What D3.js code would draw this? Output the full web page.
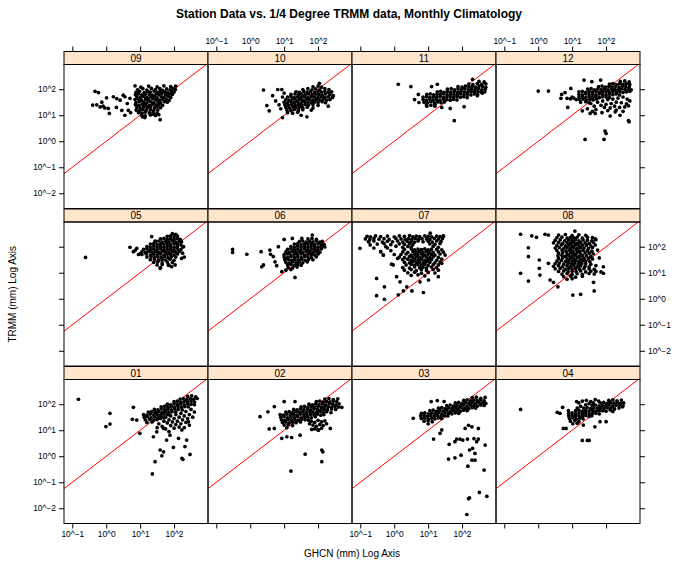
<!DOCTYPE html>
<html><head><meta charset="utf-8">
<script src="https://cdn.jsdelivr.net/npm/d3@7"></script>
<style>body{margin:0;background:#fff}text{font-family:"Liberation Sans",Arial,Helvetica,sans-serif}</style>
</head><body>
<svg id="c" width="677" height="563"></svg>
<script>
// panel order as drawn: rows top->bottom, columns left->right
const panelOrder = ["09","10","11","12","05","06","07","08","01","02","03","04"];
const xTickVals = [-1,0,1,2];
const yTickVals = [-2,-1,0,1,2];
const refLine = [-3,3]; // y = x
const title = "Station Data vs. 1/4 Degree TRMM data, Monthly Climatology";
const xTitle = "GHCN (mm) Log Axis";
const yTitle = "TRMM (mm) Log Axis";

// values are log10(mm): [GHCN, TRMM]
const m09 = [[-.33,1.92],[-.23,1.87],[-.40,1.39],[-.28,1.40],[-.18,1.32],[-.09,1.35],[-.04,1.28],[.06,1.26],[.09,1.07],[.01,1.67],[.21,1.71],[.31,1.64],[.41,1.58],[.50,1.77],[.55,1.71],[.46,1.19],[.55,1.0],[.65,1.19],[.85,2.13],[1.59,.83],[1.39,1.04],[1.07,.94],[1.14,.91],[-.13,1.50],[.30,1.30],[.62,1.45],[.70,1.65],[.72,1.10],
[1.02,2.08],[1.25,2.12],[1.5,2.09],[1.7,2.13],[1.9,2.1],[2.05,2.12],
[.92,1.98],[1.08,2.02],[1.2,1.97],[1.33,2.03],[1.45,1.99],[1.58,2.02],[1.66,1.96],[1.78,2.01],[1.88,1.98],[1.97,2.03],[2.04,1.99],
[.88,1.88],[.98,1.92],[1.12,1.87],[1.22,1.91],[1.3,1.89],[1.41,1.93],[1.52,1.88],[1.6,1.92],[1.72,1.9],[1.81,1.87],[1.93,1.92],[2.0,1.89],
[.86,1.79],[.95,1.82],[1.05,1.78],[1.15,1.81],[1.27,1.8],[1.36,1.77],[1.47,1.82],[1.55,1.79],[1.64,1.83],[1.75,1.78],[1.86,1.81],[1.95,1.8],
[.9,1.71],[1.0,1.68],[1.1,1.72],[1.2,1.69],[1.31,1.7],[1.42,1.73],[1.5,1.67],[1.62,1.71],[1.7,1.69],[1.82,1.72],[1.9,1.68],
[.85,1.6],[.94,1.62],[1.04,1.58],[1.16,1.61],[1.25,1.59],[1.37,1.63],[1.46,1.6],[1.57,1.58],[1.66,1.62],[1.77,1.6],[1.85,1.57],
[.88,1.49],[.98,1.52],[1.1,1.5],[1.2,1.48],[1.3,1.52],[1.4,1.49],[1.52,1.51],[1.6,1.48],[1.71,1.52],[1.8,1.5],
[.86,1.41],[.96,1.38],[1.06,1.42],[1.15,1.4],[1.26,1.37],[1.35,1.41],[1.46,1.39],[1.55,1.42],[1.66,1.38],
[.9,1.3],[1.0,1.28],[1.1,1.32],[1.2,1.29],[1.3,1.31],[1.42,1.28],[1.5,1.32],[1.6,1.29],
[.88,1.2],[.98,1.18],[1.08,1.22],[1.18,1.19],[1.3,1.21],[1.4,1.18],[1.52,1.2],
[.95,1.1],[1.05,1.08],[1.15,1.12],[1.27,1.09],[1.38,1.11],[1.5,1.08],
[1.05,1.0],[1.15,.98],[1.3,1.01],[1.45,.99],[1.55,1.02]];

const m10 = [[.39,1.97],[.49,1.37],[.56,1.17],[.66,1.75],[.81,1.99],[.93,1.99],[.95,.91],[2.04,2.23],[1.67,.94],[.75,1.55],[.85,1.4],[.9,1.25],[.95,1.7],[1.0,1.85],[1.5,1.0],[1.8,1.2],[2.3,1.35],[2.45,1.75],
[1.85,2.09],[2.0,2.12],[2.1,2.08],
[1.55,1.99],[1.7,2.02],[1.82,1.98],[1.93,2.01],[2.05,1.97],[2.2,2.02],[2.32,1.99],
[1.35,1.9],[1.45,1.88],[1.58,1.92],[1.68,1.89],[1.78,1.91],[1.9,1.88],[2.0,1.92],[2.1,1.89],[2.2,1.91],[2.3,1.88],[2.4,1.9],
[1.2,1.8],[1.32,1.82],[1.42,1.78],[1.52,1.81],[1.62,1.79],[1.72,1.82],[1.82,1.78],[1.92,1.81],[2.02,1.8],[2.12,1.78],[2.22,1.82],[2.35,1.79],
[1.1,1.7],[1.2,1.72],[1.3,1.68],[1.4,1.71],[1.5,1.69],[1.6,1.72],[1.7,1.68],[1.8,1.71],[1.9,1.7],[2.0,1.68],[2.1,1.72],[2.2,1.69],[2.3,1.71],[2.42,1.68],
[1.05,1.6],[1.15,1.58],[1.25,1.62],[1.35,1.59],[1.45,1.61],[1.55,1.58],[1.65,1.62],[1.75,1.6],[1.85,1.58],[1.95,1.61],[2.05,1.59],[2.15,1.62],[2.25,1.58],[2.35,1.6],
[1.0,1.5],[1.1,1.48],[1.2,1.52],[1.3,1.49],[1.4,1.51],[1.5,1.48],[1.6,1.52],[1.7,1.5],[1.8,1.48],[1.9,1.51],[2.0,1.49],[2.12,1.52],[2.22,1.48],
[1.02,1.4],[1.12,1.38],[1.22,1.42],[1.32,1.39],[1.42,1.41],[1.52,1.38],[1.62,1.42],[1.72,1.39],[1.85,1.41],[2.0,1.38],
[1.05,1.3],[1.15,1.28],[1.25,1.32],[1.35,1.29],[1.45,1.31],[1.55,1.28],[1.68,1.31],[1.85,1.28],
[1.08,1.2],[1.2,1.18],[1.3,1.22],[1.42,1.19],[1.55,1.21],
[1.1,1.1],[1.25,1.08],[1.4,1.11]];

const m11 = [[.12,2.19],[.49,2.10],[1.10,2.10],[1.27,2.19],[.71,1.80],[.73,1.49],[.96,1.35],[1.77,.79],[2.06,1.33],[2.31,2.38],[1.65,1.26],[.6,1.6],[1.4,1.3],[2.45,1.75],[2.6,1.85],[1.2,1.35],
[2.5,2.3],[2.65,2.28],
[2.2,2.2],[2.32,2.18],[2.45,2.22],[2.58,2.19],[2.7,2.21],
[1.88,2.1],[2.0,2.08],[2.1,2.12],[2.2,2.09],[2.3,2.11],[2.4,2.08],[2.5,2.12],[2.6,2.1],[2.7,2.08],
[1.57,2.0],[1.68,2.02],[1.78,1.98],[1.88,2.01],[1.98,1.99],[2.08,2.03],[2.18,1.98],[2.28,2.01],[2.38,1.99],[2.48,2.02],[2.58,1.98],[2.68,2.0],
[1.27,1.9],[1.37,1.92],[1.47,1.88],[1.57,1.91],[1.67,1.89],[1.77,1.92],[1.87,1.88],[1.97,1.91],[2.07,1.9],[2.17,1.88],[2.27,1.92],[2.37,1.89],[2.47,1.91],[2.57,1.88],[2.67,1.9],
[.96,1.8],[1.06,1.82],[1.16,1.78],[1.26,1.81],[1.36,1.79],[1.46,1.82],[1.56,1.78],[1.66,1.81],[1.76,1.8],[1.86,1.78],[1.96,1.82],[2.06,1.79],[2.16,1.81],[2.26,1.78],[2.36,1.82],[2.46,1.8],
[.85,1.7],[.95,1.72],[1.05,1.68],[1.15,1.71],[1.25,1.69],[1.35,1.72],[1.45,1.68],[1.55,1.71],[1.65,1.7],[1.75,1.68],[1.85,1.72],[1.95,1.69],[2.05,1.71],[2.15,1.68],
[.85,1.6],[.95,1.58],[1.05,1.62],[1.15,1.59],[1.25,1.61],[1.35,1.58],[1.45,1.62],[1.55,1.6],[1.65,1.58],[1.75,1.61],[1.85,1.59],
[.88,1.5],[.98,1.48],[1.08,1.52],[1.18,1.49],[1.28,1.51],[1.38,1.48],[1.48,1.51],
[.95,1.4],[1.08,1.38],[1.2,1.42]];

const m12 = [[.0,1.93],[.30,1.93],[.69,1.80],[.79,1.87],[.67,1.65],[.87,1.30],[.96,2.03],[1.35,2.35],[1.58,2.29],[1.84,2.35],[1.30,1.17],[1.53,1.07],[1.68,1.07],[2.12,.97],[2.41,1.0],[2.27,1.13],[2.66,1.36],[2.66,.79],[2.68,.75],[1.97,.39],[2.0,.30],[1.38,.07],[1.94,.07],
[.85,1.65],[.95,1.63],[1.05,1.66],[1.12,1.6],[1.0,1.7],
[2.42,2.3],[2.55,2.32],[2.68,2.28],
[2.1,2.2],[2.2,2.22],[2.3,2.18],[2.4,2.21],[2.5,2.19],[2.6,2.22],[2.7,2.18],
[1.78,2.1],[1.88,2.12],[1.98,2.08],[2.08,2.11],[2.18,2.09],[2.28,2.12],[2.38,2.08],[2.48,2.11],[2.58,2.1],[2.68,2.08],
[1.46,2.0],[1.56,2.02],[1.66,1.98],[1.76,2.01],[1.86,1.99],[1.96,2.02],[2.06,1.98],[2.16,2.01],[2.26,2.0],[2.36,1.98],[2.46,2.02],[2.56,1.99],[2.66,2.01],[2.74,1.98],
[1.2,1.9],[1.3,1.92],[1.4,1.88],[1.5,1.91],[1.6,1.89],[1.7,1.92],[1.8,1.88],[1.9,1.91],[2.0,1.9],[2.1,1.88],[2.2,1.92],[2.3,1.89],[2.4,1.91],[2.5,1.88],[2.6,1.9],[2.7,1.92],
[1.2,1.8],[1.3,1.78],[1.4,1.82],[1.5,1.79],[1.6,1.81],[1.7,1.78],[1.8,1.82],[1.9,1.8],[2.0,1.78],[2.1,1.81],[2.2,1.79],[2.3,1.82],[2.4,1.78],
[1.2,1.7],[1.3,1.72],[1.4,1.68],[1.5,1.71],[1.6,1.69],[1.7,1.72],[1.8,1.68],[1.9,1.71],[2.0,1.7],[2.1,1.68],
[1.22,1.6],[1.32,1.62],[1.42,1.58],[1.52,1.61],[1.62,1.59],[1.72,1.62],
[1.25,1.5],[1.4,1.52],[1.5,1.48],
[1.55,1.45],[1.75,1.5],[1.9,1.55],[2.05,1.6],[2.2,1.62],[2.35,1.66],[2.5,1.7],[2.62,1.62],[2.7,1.55],[1.65,1.35],[1.85,1.38],[2.0,1.42],[2.15,1.45],[2.3,1.5],[2.45,1.48],[2.6,1.44],[1.45,1.25],[1.7,1.22],[1.95,1.3],[2.12,1.28],[2.25,1.35],[2.4,1.3],[2.55,1.32],[1.6,1.15],[1.88,1.1],[2.05,1.18],[2.3,1.2],[2.5,1.15]];

const m05 = [[-.61,1.59],[.70,1.98],[.80,1.81],[.90,1.94],[1.0,1.74],[1.34,2.39],[1.44,2.22],[1.59,1.17],[1.83,1.30],[2.03,1.30],[2.22,1.55],[2.28,2.0],[1.93,1.23],[.85,1.85],[.95,1.7],[2.25,1.75],[2.3,1.6],
[1.95,2.5],[2.05,2.48],
[1.8,2.4],[1.9,2.42],[2.0,2.38],[2.1,2.41],
[1.6,2.3],[1.7,2.32],[1.8,2.28],[1.9,2.31],[2.0,2.29],[2.1,2.32],[2.18,2.28],
[1.45,2.2],[1.55,2.22],[1.65,2.18],[1.75,2.21],[1.85,2.19],[1.95,2.22],[2.05,2.18],[2.15,2.21],[2.22,2.19],
[1.3,2.1],[1.4,2.12],[1.5,2.08],[1.6,2.11],[1.7,2.09],[1.8,2.12],[1.9,2.08],[2.0,2.11],[2.1,2.1],[2.2,2.08],
[1.2,2.0],[1.3,1.98],[1.4,2.02],[1.5,1.99],[1.6,2.01],[1.7,1.98],[1.8,2.02],[1.9,2.0],[2.0,1.98],[2.1,2.01],[2.25,1.99],
[1.1,1.9],[1.2,1.92],[1.3,1.88],[1.4,1.91],[1.5,1.89],[1.6,1.92],[1.7,1.88],[1.8,1.91],[1.9,1.9],[2.0,1.88],[2.1,1.92],[2.2,1.89],
[1.05,1.8],[1.15,1.78],[1.25,1.82],[1.35,1.79],[1.45,1.81],[1.55,1.78],[1.65,1.82],[1.75,1.8],[1.85,1.78],[1.95,1.81],[2.05,1.79],[2.15,1.82],
[1.05,1.7],[1.18,1.72],[1.3,1.68],[1.4,1.71],[1.5,1.69],[1.6,1.72],[1.7,1.68],[1.8,1.71],[1.9,1.7],[2.0,1.68],[2.1,1.72],
[1.2,1.6],[1.32,1.62],[1.42,1.58],[1.52,1.61],[1.62,1.59],[1.72,1.62],[1.82,1.58],[1.92,1.61],[2.05,1.6],
[1.3,1.5],[1.42,1.52],[1.55,1.48],[1.65,1.51],[1.75,1.49],[1.88,1.52],[2.0,1.48],
[1.4,1.4],[1.52,1.42],[1.65,1.38],[1.8,1.41],[1.95,1.39],
[1.5,1.3],[1.65,1.32],[1.85,1.28],[1.6,1.2]];

const m06 = [[-.52,1.90],[-.52,1.78],[-.10,1.71],[.32,1.81],[.39,1.30],[.34,1.23],[.58,1.87],[.60,1.71],[.68,1.62],[.73,1.42],[.78,1.27],[.83,2.0],[1.0,2.28],[1.24,2.32],[1.52,2.32],[1.83,2.45],[1.32,.82],[.93,1.04],
[1.7,2.3],[1.82,2.32],[1.95,2.28],
[1.45,2.2],[1.55,2.22],[1.65,2.18],[1.75,2.21],[1.85,2.19],[1.95,2.22],[2.05,2.18],[2.12,2.21],
[1.3,2.1],[1.4,2.12],[1.5,2.08],[1.6,2.11],[1.7,2.09],[1.8,2.12],[1.9,2.08],[2.0,2.11],[2.1,2.1],[2.18,2.08],
[1.2,2.0],[1.3,1.98],[1.4,2.02],[1.5,1.99],[1.6,2.01],[1.7,1.98],[1.8,2.02],[1.9,2.0],[2.0,1.98],[2.1,2.01],[2.2,1.99],
[1.1,1.9],[1.2,1.92],[1.3,1.88],[1.4,1.91],[1.5,1.89],[1.6,1.92],[1.7,1.88],[1.8,1.91],[1.9,1.9],[2.0,1.88],[2.1,1.92],
[1.05,1.8],[1.15,1.78],[1.25,1.82],[1.35,1.79],[1.45,1.81],[1.55,1.78],[1.65,1.82],[1.75,1.8],[1.85,1.78],[1.95,1.81],[2.05,1.79],
[1.0,1.7],[1.1,1.72],[1.2,1.68],[1.3,1.71],[1.4,1.69],[1.5,1.72],[1.6,1.68],[1.7,1.71],[1.8,1.7],[1.9,1.68],[2.0,1.72],
[1.0,1.6],[1.1,1.58],[1.2,1.62],[1.3,1.59],[1.4,1.61],[1.5,1.58],[1.6,1.62],[1.7,1.6],[1.8,1.58],[1.95,1.61],
[1.02,1.5],[1.12,1.52],[1.22,1.48],[1.32,1.51],[1.42,1.49],[1.52,1.52],[1.62,1.48],[1.72,1.51],[1.85,1.5],
[1.05,1.4],[1.15,1.38],[1.25,1.42],[1.35,1.39],[1.45,1.41],[1.55,1.38],[1.68,1.42],
[1.1,1.3],[1.2,1.32],[1.3,1.28],[1.4,1.31],[1.5,1.29],
[1.12,1.2],[1.25,1.18],[1.38,1.22],
[1.05,1.1],[1.2,1.12]];

const m07 = [[-1.01,1.94],[-.52,.78],[-.29,.46],[-.52,.12],[-.29,-.02],[.12,.15],[.27,.30],[.52,.30],[.86,.24],[.37,.46],[.17,.65],[.07,.85],[-.03,1.30],[-.08,1.33],[-.32,1.68],[-.40,1.81],[-.71,2.07],[-.76,2.19],[1.06,2.52],[1.45,2.42],[1.50,1.68],[1.40,1.36],[1.30,.85],[1.01,.72],[.76,.65],
[-.6,1.95],[-.4,1.81],[-.32,1.68],[-.1,1.85],[0,1.7],[.1,1.55],[-.2,1.95],
[-.8,2.4],[-.7,2.38],[-.55,2.42],[-.4,2.39],[-.2,2.41],[0,2.38],[.15,2.42],[.3,2.4],[.45,2.43],[.55,2.38],[.65,2.41],[.75,2.39],[.9,2.42],[1.0,2.4],[1.1,2.38],[1.25,2.41],[1.35,2.39],[1.45,2.4],
[-.85,2.3],[-.72,2.28],[-.6,2.32],[-.45,2.29],[-.3,2.31],[-.15,2.28],[.05,2.32],[.2,2.3],[.32,2.28],[.42,2.31],[.52,2.29],[.62,2.32],[.72,2.28],[.82,2.31],[.95,2.3],[1.05,2.28],[1.18,2.32],[1.3,2.29],[1.42,2.31],
[-.75,2.2],[-.6,2.22],[-.35,2.18],[-.2,2.21],[-.05,2.19],[.1,2.22],[.25,2.18],[.38,2.21],[.5,2.2],[.6,2.18],[.7,2.22],[.85,2.19],[1.0,2.21],[1.12,2.18],[1.25,2.22],[1.38,2.2],
[-.5,2.1],[-.3,2.12],[-.1,2.08],[.15,2.11],[.3,2.09],[.45,2.12],[.55,2.08],[1.05,2.11],[1.2,2.09],[1.35,2.12],
[-.25,2.0],[.05,2.02],[.25,1.98],[.4,2.01],[.5,1.99],[1.15,2.02],[1.3,1.98],
[.3,1.9],[.5,1.92],[.6,1.88],[.7,1.91],[.8,1.89],[.9,1.92],[1.0,1.88],[1.1,1.91],[1.25,1.9],[1.4,1.88],
[.25,1.8],[.4,1.78],[.55,1.82],[.65,1.79],[.75,1.81],[.85,1.78],[.95,1.82],[1.05,1.8],[1.15,1.78],[1.3,1.81],[1.45,1.79],
[.2,1.7],[.35,1.72],[.5,1.68],[.6,1.71],[.7,1.69],[.8,1.72],[.9,1.68],[1.0,1.71],[1.1,1.7],[1.2,1.68],[1.35,1.72],
[.15,1.6],[.3,1.58],[.45,1.62],[.55,1.59],[.65,1.61],[.75,1.58],[.85,1.62],[.95,1.6],[1.05,1.58],[1.15,1.61],[1.3,1.59],
[.25,1.5],[.4,1.52],[.5,1.48],[.6,1.51],[.7,1.49],[.8,1.52],[.9,1.48],[1.0,1.51],[1.1,1.5],[1.25,1.48],[1.4,1.52],
[.3,1.4],[.45,1.38],[.55,1.42],[.65,1.39],[.75,1.41],[.85,1.38],[.95,1.42],[1.05,1.4],[1.2,1.38],[1.35,1.41],
[.35,1.3],[.5,1.32],[.6,1.28],[.7,1.31],[.8,1.29],[.9,1.32],[1.0,1.28],[1.15,1.31],[1.3,1.3],
[.25,1.2],[.45,1.18],[.6,1.22],[.75,1.19],[.85,1.21],[.95,1.18],[1.1,1.22],[1.25,1.2],
[.3,1.1],[.5,1.12],[.65,1.08],[.8,1.11],[.95,1.09],[1.15,1.12],[1.3,1.1],
[.4,1.0],[.6,1.02],[.8,.98],[1.0,1.01],[1.2,.99],
[.5,.9],[.7,.92],[.9,.88]];

const m08 = [[-.52,2.48],[-.19,2.42],[-.05,2.36],[-.29,1.96],[-.29,1.62],[-.52,.98],[-.29,.68],[.03,1.17],[.05,.91],[.03,1.49],[.30,1.36],[.35,.72],[.45,.63],[.58,.46],[1.02,.14],[1.25,.17],[1.65,.30],[1.63,.63],[1.92,1.23],[1.92,.98],[1.68,2.30],[1.08,2.60],[.2,2.48],[.3,2.45],
[.6,2.45],[.8,2.47],[1.0,2.43],[1.2,2.46],[1.4,2.44],
[.55,2.35],[.7,2.37],[.85,2.33],[.95,2.36],[1.05,2.34],[1.15,2.37],[1.3,2.33],[1.45,2.36],[1.6,2.35],
[.5,2.25],[.65,2.27],[.78,2.23],[.9,2.26],[1.0,2.24],[1.1,2.27],[1.2,2.23],[1.32,2.26],[1.45,2.25],[1.58,2.23],[1.7,2.27],
[.45,2.15],[.6,2.17],[.72,2.13],[.85,2.16],[.95,2.14],[1.05,2.17],[1.15,2.13],[1.25,2.16],[1.38,2.15],[1.5,2.13],[1.62,2.17],
[.55,2.05],[.68,2.07],[.8,2.03],[.9,2.06],[1.0,2.04],[1.1,2.07],[1.2,2.03],[1.3,2.06],[1.42,2.05],[1.55,2.03],[1.68,2.07],
[.5,1.95],[.62,1.97],[.75,1.93],[.85,1.96],[.95,1.94],[1.05,1.97],[1.15,1.93],[1.25,1.96],[1.35,1.95],[1.48,1.93],[1.6,1.97],
[.55,1.85],[.7,1.87],[.82,1.83],[.92,1.86],[1.02,1.84],[1.12,1.87],[1.22,1.83],[1.32,1.86],[1.45,1.85],[1.58,1.83],[1.75,1.87],
[.6,1.75],[.72,1.77],[.85,1.73],[.95,1.76],[1.05,1.74],[1.15,1.77],[1.25,1.73],[1.38,1.76],[1.5,1.75],[1.62,1.73],
[.58,1.65],[.7,1.67],[.8,1.63],[.9,1.66],[1.0,1.64],[1.1,1.67],[1.2,1.63],[1.3,1.66],[1.42,1.65],[1.55,1.63],
[.6,1.55],[.72,1.57],[.85,1.53],[.95,1.56],[1.05,1.54],[1.15,1.57],[1.25,1.53],[1.35,1.56],[1.48,1.55],[1.6,1.53],[1.8,1.57],
[.55,1.45],[.68,1.47],[.8,1.43],[.9,1.46],[1.0,1.44],[1.1,1.47],[1.2,1.43],[1.3,1.46],[1.4,1.45],[1.52,1.43],
[.5,1.35],[.62,1.37],[.75,1.33],[.88,1.36],[.98,1.34],[1.08,1.37],[1.18,1.33],[1.28,1.36],[1.4,1.35],[1.55,1.33],
[.45,1.25],[.6,1.27],[.72,1.23],[.85,1.26],[.95,1.24],[1.05,1.27],[1.15,1.23],[1.25,1.26],[1.38,1.25],[1.5,1.23],[1.7,1.27],
[.5,1.15],[.65,1.17],[.8,1.13],[.9,1.16],[1.0,1.14],[1.1,1.17],[1.22,1.13],[1.35,1.16],[1.5,1.15],[1.65,1.13],
[.6,1.05],[.75,1.07],[.88,1.03],[1.0,1.06],[1.12,1.04],[1.25,1.07],[1.4,1.03],[1.55,1.06],[1.7,1.05],[1.85,1.03],
[.7,.95],[.85,.97],[1.0,.93],[1.15,.96],[1.3,.94],[1.5,.97],[1.65,.95],
[.75,.85],[.95,.87],[1.1,.83],[1.3,.86],
[.85,.75],[1.0,.77]];

const m01 = [[-.82,2.19],[.11,1.65],[-.01,1.14],[.11,1.24],[.80,1.88],[.77,1.42],[.90,1.39],[.99,.88],[1.36,-.68],[1.44,-.21],[1.64,.02],[1.59,.24],[1.69,.17],[2.23,-.08],[2.26,-.12],[2.47,.07],[2.32,.37],[1.98,.34],[1.78,.62],[1.88,.81],[2.13,.69],[2.37,.62],[1.39,.75],[1.49,.94],[1.69,1.07],[2.23,1.01],[2.42,1.33],
[2.4,2.3],[2.52,2.32],[2.64,2.28],
[2.18,2.2],[2.28,2.22],[2.38,2.18],[2.48,2.21],[2.58,2.19],[2.68,2.22],
[2.0,2.1],[2.1,2.12],[2.2,2.08],[2.3,2.11],[2.4,2.09],[2.5,2.12],[2.6,2.08],
[1.8,2.0],[1.9,1.98],[2.0,2.02],[2.1,1.99],[2.2,2.01],[2.3,1.98],[2.4,2.02],[2.5,2.0],[2.6,1.98],
[1.62,1.9],[1.72,1.92],[1.82,1.88],[1.92,1.91],[2.02,1.89],[2.12,1.92],[2.22,1.88],[2.32,1.91],[2.42,1.9],
[1.42,1.8],[1.52,1.78],[1.62,1.82],[1.72,1.79],[1.82,1.81],[1.92,1.78],[2.02,1.82],[2.12,1.8],[2.24,1.78],
[1.24,1.7],[1.34,1.72],[1.44,1.68],[1.54,1.71],[1.64,1.69],[1.74,1.72],[1.84,1.68],[1.94,1.71],[2.05,1.7],
[1.1,1.6],[1.2,1.58],[1.3,1.62],[1.4,1.59],[1.5,1.61],[1.6,1.58],[1.7,1.62],[1.8,1.6],[1.88,1.58],
[1.12,1.5],[1.22,1.52],[1.32,1.48],[1.42,1.51],[1.52,1.49],[1.62,1.52],[1.7,1.48],
[1.15,1.4],[1.28,1.42],[1.4,1.38],[1.5,1.41],
[1.2,1.3],[1.35,1.32],
[1.6,1.45],[1.75,1.5],[1.9,1.55],[2.05,1.6],[2.2,1.65],[2.35,1.72],[2.5,1.8],[1.7,1.35],[1.85,1.4],[2.0,1.45],[2.15,1.5],[2.3,1.55],[2.45,1.6],[2.6,1.7],[1.55,1.25],[1.8,1.28],[1.95,1.32],[2.1,1.35],[2.25,1.4],[2.4,1.45],[2.55,1.5],[1.65,1.15],[1.9,1.18],[2.05,1.22],[2.2,1.25],[2.35,1.3],[1.75,1.05],[2.0,1.08],[2.15,1.12],[2.3,1.1],[1.5,1.1],[1.85,.95],[2.45,1.2]];

const m02 = [[.29,1.52],[.52,1.71],[.71,1.91],[1.0,2.10],[1.32,2.10],[.56,1.05],[.71,1.07],[.93,.69],[1.08,.75],[1.22,.72],[1.62,.08],[2.11,.24],[2.14,.17],[2.11,-.21],[1.20,-.57],[2.7,1.88],[2.36,1.07],[2.01,1.0],[1.47,.81],[1.81,1.03],
[2.2,2.2],[2.32,2.22],[2.45,2.18],[2.58,2.21],
[1.95,2.1],[2.05,2.12],[2.15,2.08],[2.25,2.11],[2.35,2.09],[2.45,2.12],[2.55,2.1],
[1.73,2.0],[1.83,1.98],[1.93,2.02],[2.03,1.99],[2.13,2.01],[2.23,1.98],[2.33,2.02],[2.43,2.0],[2.53,1.98],[2.62,2.01],
[1.5,1.9],[1.6,1.92],[1.7,1.88],[1.8,1.91],[1.9,1.89],[2.0,1.92],[2.1,1.88],[2.2,1.91],[2.3,1.9],[2.4,1.88],[2.5,1.92],[2.6,1.89],
[1.28,1.8],[1.38,1.78],[1.48,1.82],[1.58,1.79],[1.68,1.81],[1.78,1.78],[1.88,1.82],[1.98,1.8],[2.08,1.78],[2.18,1.81],[2.28,1.79],[2.4,1.82],[2.52,1.8],
[1.05,1.7],[1.15,1.72],[1.25,1.68],[1.35,1.71],[1.45,1.69],[1.55,1.72],[1.65,1.68],[1.75,1.71],[1.85,1.7],[1.95,1.68],[2.05,1.72],[2.15,1.69],[2.25,1.71],[2.38,1.68],
[.88,1.6],[.98,1.58],[1.08,1.62],[1.18,1.59],[1.28,1.61],[1.38,1.58],[1.48,1.62],[1.58,1.6],[1.68,1.58],[1.78,1.61],[1.88,1.59],[1.98,1.62],[2.08,1.58],[2.17,1.6],
[.9,1.5],[1.0,1.52],[1.1,1.48],[1.2,1.51],[1.3,1.49],[1.4,1.52],[1.5,1.48],[1.6,1.51],[1.7,1.5],[1.8,1.48],[1.92,1.52],
[.92,1.4],[1.02,1.38],[1.12,1.42],[1.22,1.39],[1.32,1.41],[1.42,1.38],[1.52,1.42],[1.62,1.4],[1.72,1.38],
[.95,1.3],[1.05,1.32],[1.15,1.28],[1.25,1.31],[1.35,1.29],[1.48,1.32],
[1.0,1.2],[1.12,1.22],[1.25,1.18],[1.08,1.1],
[1.8,1.35],[1.9,1.3],[2.0,1.38],[2.1,1.32],[2.2,1.36],[1.85,1.2],[1.95,1.15],[2.05,1.22],[2.15,1.18],[1.9,1.05],[2.0,1.02],[2.1,1.08],[2.25,1.25],[1.75,1.25]];

const m03 = [[.56,1.46],[1.09,2.10],[1.27,2.14],[1.47,2.10],[1.16,.66],[1.35,.88],[1.40,1.01],[1.62,.46],[1.60,-.11],[1.79,-.06],[1.84,.66],[1.79,.56],[1.97,.04],[2.02,.62],[2.16,.66],[2.22,.24],[2.17,-.38],[2.29,-.15],[2.38,-.15],[2.38,.11],[2.31,.30],[2.43,.56],[2.48,.66],[2.68,.43],[2.65,-.53],[2.51,-1.39],[2.73,-1.54],[2.19,-1.63],[2.22,-1.60],[2.14,-2.24],[2.19,1.19],[2.29,1.13],[2.48,1.07],[2.09,1.07],[2.35,.68],[1.94,.66],
[2.3,2.25],[2.42,2.27],[2.55,2.23],[2.68,2.26],
[2.05,2.15],[2.15,2.17],[2.25,2.13],[2.35,2.16],[2.45,2.14],[2.55,2.17],[2.65,2.13],
[1.8,2.05],[1.9,2.07],[2.0,2.03],[2.1,2.06],[2.2,2.04],[2.3,2.07],[2.4,2.03],[2.5,2.06],[2.6,2.05],[2.7,2.03],
[1.55,1.95],[1.65,1.97],[1.75,1.93],[1.85,1.96],[1.95,1.94],[2.05,1.97],[2.15,1.93],[2.25,1.96],[2.35,1.95],[2.45,1.93],[2.55,1.97],[2.65,1.95],
[1.3,1.85],[1.4,1.87],[1.5,1.83],[1.6,1.86],[1.7,1.84],[1.8,1.87],[1.9,1.83],[2.0,1.86],[2.1,1.85],[2.2,1.83],[2.3,1.87],[2.4,1.85],
[1.05,1.75],[1.15,1.77],[1.25,1.73],[1.35,1.76],[1.45,1.74],[1.55,1.77],[1.65,1.73],[1.75,1.76],[1.85,1.75],[1.95,1.73],[2.05,1.77],[2.15,1.75],
[.8,1.65],[.9,1.67],[1.0,1.63],[1.1,1.66],[1.2,1.64],[1.3,1.67],[1.4,1.63],[1.5,1.66],[1.6,1.65],[1.7,1.63],[1.8,1.67],[1.9,1.65],
[.78,1.55],[.88,1.57],[.98,1.53],[1.08,1.56],[1.18,1.54],[1.28,1.57],[1.38,1.53],[1.48,1.56],[1.58,1.55],
[.8,1.45],[.9,1.47],[1.0,1.43],[1.1,1.46],[1.2,1.44],[1.3,1.47],[1.4,1.45],
[.88,1.35],[1.0,1.37],[1.12,1.33],[1.0,1.25]];

const m04 = [[-.52,1.80],[.56,1.69],[.64,1.65],[.72,1.88],[.89,1.75],[.74,1.07],[.82,1.07],[1.30,.61],[1.45,.61],[1.50,.61],[1.13,2.10],[2.0,1.33],[1.67,1.13],[1.82,1.33],[1.33,1.20],
[1.3,2.12],[1.42,2.15],[1.55,2.1],[1.68,2.18],[1.78,2.12],[1.5,2.02],[1.4,1.98],[1.25,1.92],[1.62,2.05],[1.15,1.85],[1.2,2.05],
[2.12,1.78],[2.25,1.82],[2.38,1.85],[2.48,1.9],[2.2,1.72],
[2.08,2.15],[2.2,2.17],[2.32,2.13],[2.45,2.16],
[1.83,2.05],[1.93,2.07],[2.03,2.03],[2.13,2.06],[2.23,2.04],[2.33,2.07],[2.43,2.03],[2.52,2.05],
[1.59,1.95],[1.69,1.97],[1.79,1.93],[1.89,1.96],[1.99,1.94],[2.09,1.97],[2.19,1.93],[2.29,1.96],[2.39,1.95],[2.5,1.93],
[1.34,1.85],[1.44,1.87],[1.54,1.83],[1.64,1.86],[1.74,1.84],[1.84,1.87],[1.94,1.83],[2.04,1.86],[2.14,1.85],[2.24,1.83],
[1.1,1.75],[1.2,1.77],[1.3,1.73],[1.4,1.76],[1.5,1.74],[1.6,1.77],[1.7,1.73],[1.8,1.76],[1.9,1.75],[2.0,1.73],
[.9,1.65],[1.0,1.67],[1.1,1.63],[1.2,1.66],[1.3,1.64],[1.4,1.67],[1.5,1.63],[1.6,1.66],[1.7,1.65],[1.8,1.63],
[.9,1.55],[1.0,1.57],[1.1,1.53],[1.2,1.56],[1.3,1.54],[1.4,1.57],[1.5,1.53],[1.58,1.56],
[.92,1.45],[1.02,1.47],[1.12,1.43],[1.22,1.46],[1.32,1.44],
[.95,1.35],[1.08,1.37],[1.2,1.33],
[1.02,1.25],[1.15,1.27]];

const panelData = {"01":m01,"02":m02,"03":m03,"04":m04,"05":m05,"06":m06,"07":m07,"08":m08,"09":m09,"10":m10,"11":m11,"12":m12};

const tickLabel = d => "10^" + (d < 0 ? "\u2212" + (-d) : d);

const svg = d3.select("#c");
const pw = 144, ph = 144, sh = 13, left0 = 64, top0 = 51.5, rowStep = 157.5;
const x = d3.scaleLinear().domain([-1.245, 3.0]).range([0, pw]);
const y = d3.scaleLinear().domain([-2.585, 2.95]).range([ph, 0]);

svg.append("text").attr("x", 349).attr("y", 18).attr("text-anchor", "middle")
  .attr("font-size", 12).attr("font-weight", "bold").text(title);
svg.append("text").attr("x", 352).attr("y", 557).attr("text-anchor", "middle")
  .attr("font-size", 10).text(xTitle);
svg.append("text").attr("transform", "translate(16," + (top0 + sh + (3 * rowStep - sh) / 2) + ") rotate(-90)")
  .attr("text-anchor", "middle").attr("font-size", 10).text(yTitle);

svg.append("clipPath").attr("id", "pclip").append("rect").attr("width", pw).attr("height", ph);

const styleAxis = g => {
  g.select(".domain").remove();
  g.selectAll(".tick line").attr("stroke", "#000");
  g.selectAll(".tick text").attr("font-size", 8.4).attr("fill", "#000")
    .attr("font-family", "Liberation Sans, Arial, sans-serif");
};

panelOrder.forEach((m, i) => {
  const r = Math.floor(i / 4), c = i % 4;
  const g = svg.append("g").attr("transform", `translate(${left0 + c * pw},${top0 + r * rowStep + sh})`);
  // strip
  g.append("rect").attr("x", 0).attr("y", -sh).attr("width", pw).attr("height", sh)
    .attr("fill", "#ffe5cc").attr("stroke", "#000").attr("stroke-width", 1);
  g.append("text").attr("x", pw / 2).attr("y", -sh / 2).attr("dy", "0.36em").attr("text-anchor", "middle")
    .attr("font-size", 10).text(m);
  const inner = g.append("g").attr("clip-path", "url(#pclip)");
  inner.append("line")
    .attr("x1", x(refLine[0])).attr("y1", y(refLine[0]))
    .attr("x2", x(refLine[1])).attr("y2", y(refLine[1]))
    .attr("stroke", "#ff0000").attr("stroke-width", 1);
  inner.selectAll("circle").data(panelData[m]).join("circle")
    .attr("cx", d => x(d[0])).attr("cy", d => y(d[1])).attr("r", 1.85).attr("fill", "#000");
  g.append("rect").attr("width", pw).attr("height", ph).attr("fill", "none")
    .attr("stroke", "#000").attr("stroke-width", 1);
  // axes (lattice alternating)
  if (r === 0) {
    g.append("g").attr("transform", `translate(0,${-sh})`)
      .call(d3.axisTop(x).tickValues(xTickVals).tickSize(5).tickPadding(3)
        .tickFormat(c % 2 === 1 ? tickLabel : () => "")).call(styleAxis);
  }
  if (r === 2) {
    g.append("g").attr("transform", `translate(0,${ph})`)
      .call(d3.axisBottom(x).tickValues(xTickVals).tickSize(5).tickPadding(3)
        .tickFormat(c % 2 === 0 ? tickLabel : () => "")).call(styleAxis);
  }
  if (c === 0) {
    g.append("g").call(d3.axisLeft(y).tickValues(yTickVals).tickSize(5).tickPadding(3)
      .tickFormat(r % 2 === 0 ? tickLabel : () => "")).call(styleAxis);
  }
  if (c === 3) {
    g.append("g").attr("transform", `translate(${pw},0)`)
      .call(d3.axisRight(y).tickValues(yTickVals).tickSize(5).tickPadding(3)
        .tickFormat(r % 2 === 1 ? tickLabel : () => "")).call(styleAxis);
  }
});
</script>
</body></html>
